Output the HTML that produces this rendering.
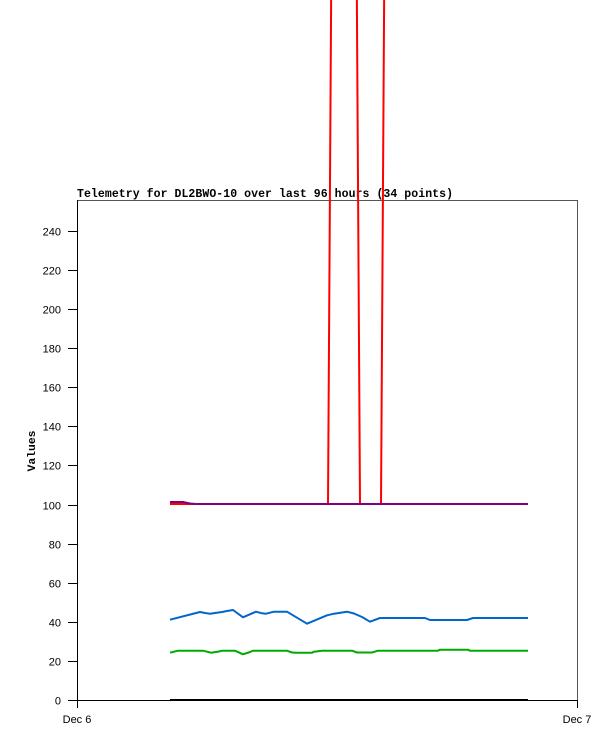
<!DOCTYPE html>
<html>
<head>
<meta charset="utf-8">
<style>
  html,body{margin:0;padding:0;background:#fff;}
  svg{display:block;}
</style>
</head>
<body>
<svg width="615" height="741" viewBox="0 0 615 741" xmlns="http://www.w3.org/2000/svg">
  <rect x="0" y="0" width="615" height="741" fill="#fff"/>
  <!-- title -->
  <text x="77" y="197" textLength="376" lengthAdjust="spacing" font-family="Liberation Mono, monospace" font-weight="bold" font-size="11.5" fill="#000">Telemetry for DL2BWO-10 over last 96 hours (34 points)</text>
  <!-- y axis label -->
  <text x="0" y="0" transform="translate(35,451) rotate(-90)" text-anchor="middle" font-family="Liberation Mono, monospace" font-weight="bold" font-size="11.4" fill="#000">Values</text>

  <!-- frame -->
  <g shape-rendering="crispEdges">
    <line x1="77" y1="200.5" x2="578" y2="200.5" stroke="#555" stroke-width="1"/>
    <line x1="577.5" y1="200" x2="577.5" y2="701" stroke="#555" stroke-width="1"/>
    <line x1="77.5" y1="200" x2="77.5" y2="708" stroke="#000" stroke-width="1"/>
    <line x1="77" y1="700.5" x2="578" y2="700.5" stroke="#000" stroke-width="1"/>
    <line x1="577.5" y1="700" x2="577.5" y2="708" stroke="#000" stroke-width="1"/>
    <!-- y ticks -->
    <line x1="68" y1="700.5" x2="77" y2="700.5" stroke="#000"/>
    <line x1="68" y1="661.5" x2="77" y2="661.5" stroke="#000"/>
    <line x1="68" y1="622.5" x2="77" y2="622.5" stroke="#000"/>
    <line x1="68" y1="583.5" x2="77" y2="583.5" stroke="#000"/>
    <line x1="68" y1="544.5" x2="77" y2="544.5" stroke="#000"/>
    <line x1="68" y1="505.5" x2="77" y2="505.5" stroke="#000"/>
    <line x1="68" y1="465.5" x2="77" y2="465.5" stroke="#000"/>
    <line x1="68" y1="426.5" x2="77" y2="426.5" stroke="#000"/>
    <line x1="68" y1="387.5" x2="77" y2="387.5" stroke="#000"/>
    <line x1="68" y1="348.5" x2="77" y2="348.5" stroke="#000"/>
    <line x1="68" y1="309.5" x2="77" y2="309.5" stroke="#000"/>
    <line x1="68" y1="270.5" x2="77" y2="270.5" stroke="#000"/>
    <line x1="68" y1="231.5" x2="77" y2="231.5" stroke="#000"/>
  </g>
  <g font-family="Liberation Sans, sans-serif" font-size="11" fill="#000" text-anchor="end">
    <text x="61" y="704.5">0</text>
    <text x="61" y="665.5">20</text>
    <text x="61" y="626.5">40</text>
    <text x="61" y="587.5">60</text>
    <text x="61" y="548.5">80</text>
    <text x="61" y="509.5">100</text>
    <text x="61" y="469.5">120</text>
    <text x="61" y="430.5">140</text>
    <text x="61" y="391.5">160</text>
    <text x="61" y="352.5">180</text>
    <text x="61" y="313.5">200</text>
    <text x="61" y="274.5">220</text>
    <text x="61" y="235.5">240</text>
  </g>
  <g font-family="Liberation Sans, sans-serif" font-size="11" fill="#000" text-anchor="middle">
    <text x="77" y="723">Dec 6</text>
    <text x="577" y="723">Dec 7</text>
  </g>

  <!-- series -->
  <g fill="none" stroke-width="2" stroke-linejoin="round">
    <!-- black zero line -->
    <polyline stroke="#000" points="170,700 528,700"/>
    <!-- green -->
    <polyline stroke="#00aa00" points="170,652.7 178,650.7 203,650.7 211,652.7 219,651.5 222,650.7 235,650.7 243,654.3 250,652 253,650.7 287,650.7 292,652.5 296,652.7 312,652.7 314,651.7 322,650.7 352,650.7 357,652.5 372,652.5 378,650.7 438,650.7 440,649.7 468,649.7 470,650.7 528,650.7"/>
    <!-- blue -->
    <polyline stroke="#0066cc" points="170,619.7 200,612 205,613 210,613.7 215,613 222,612 227,611 233,610 243,617.3 256,611.7 262,613.3 266,613.7 274,611.7 287,611.7 307,623.7 327,615.3 334,613.7 347,611.7 354,613.5 362,617 370,621.7 380,618 425,618 430,620 467,620 473,618 528,618"/>
    <!-- red -->
    <polyline stroke="#ff0000" points="170,504 328,504 331.2,-10"/>
    <polyline stroke="#ff0000" points="356.8,-10 360,504 381,504 384.2,-10"/>
    <!-- purple -->
    <polyline stroke="#800080" points="170,502 183,502 190,503.5 196,504 528,504"/>
  </g>
</svg>
</body>
</html>
